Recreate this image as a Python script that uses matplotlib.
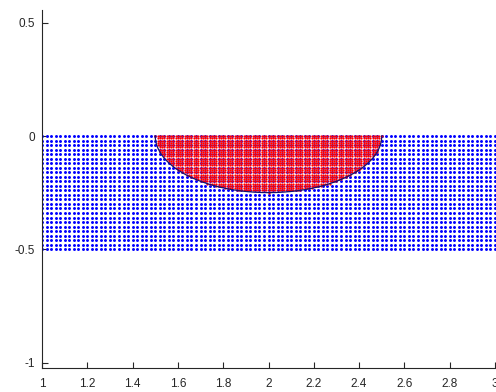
import numpy as np
import matplotlib
matplotlib.use("Agg")
import matplotlib.pyplot as plt

# Domain grid (blue points)
x_min, x_max, grid_step = 1.0, 3.0, 0.02
y_min, y_max = -0.5, 0.0
# Inclusion: lower half ellipse (red points)
ell_cx, ell_cy, ell_a, ell_b = 2.0, 0.0, 0.5, 0.25
fine_step = 0.01

xticks = [1, 1.2, 1.4, 1.6, 1.8, 2, 2.2, 2.4, 2.6, 2.8, 3]
xticklabels = ["1", "1.2", "1.4", "1.6", "1.8", "2", "2.2", "2.4", "2.6", "2.8", "3"]
yticks = [-1, -0.5, 0, 0.5]
yticklabels = ["-1", "-0.5", "0", "0.5"]

plt.rcParams['font.family'] = ['Liberation Sans', 'DejaVu Sans']

fig = plt.figure(figsize=(4.96, 3.92), dpi=100)
W, H = 496, 392
left, right, bottom, top = 42, 495, 368, 10
ax = fig.add_axes([left / W, (H - bottom) / H, (right - left) / W, (bottom - top) / H])

# blue grid
nx = int(round((x_max - x_min) / grid_step)) + 1
ny = int(round((y_max - y_min) / grid_step)) + 1
gx, gy = np.meshgrid(np.linspace(x_min, x_max, nx), np.linspace(y_min, y_max, ny))
ax.scatter(gx.ravel(), gy.ravel(), s=4.5, c='#0000ff', marker='o', linewidths=0, zorder=2)

# red fine points inside half ellipse
fx = np.linspace(ell_cx - ell_a, ell_cx + ell_a, int(round(2 * ell_a / fine_step)) + 1)
fy = np.linspace(ell_cy - ell_b, ell_cy, int(round(ell_b / fine_step)) + 1)
FX, FY = np.meshgrid(fx, fy)
inside = ((FX - ell_cx) / ell_a) ** 2 + ((FY - ell_cy) / ell_b) ** 2 <= 1.0 + 1e-9
ax.scatter(FX[inside], FY[inside], s=2.6, c='#ff0000', marker='o', linewidths=0, zorder=3)

# ellipse outline (lower arc)
t = np.linspace(np.pi, 2 * np.pi, 200)
ax.plot(ell_cx + ell_a * np.cos(t), ell_cy + ell_b * np.sin(t), color='#14146e', lw=0.9, zorder=4)

unit_px = (right - left) / (x_max - x_min)
ax.set_xlim(x_min, x_max)
y0_px = 136
ax.set_ylim(-(bottom - y0_px) / unit_px, (y0_px - top) / unit_px)

ax.set_xticks(xticks)
ax.set_xticklabels(xticklabels)
ax.set_yticks(yticks)
ax.set_yticklabels(yticklabels)
for s in ['top', 'right']:
    ax.spines[s].set_visible(False)
for s in ['left', 'bottom']:
    ax.spines[s].set_color('#262626')
    ax.spines[s].set_linewidth(0.8)
ax.tick_params(direction='in', length=4, width=0.8, color='#262626', labelcolor='#262626', labelsize=8.5)
ax.tick_params(axis='x', pad=7)
ax.tick_params(axis='y', pad=5)

fig.savefig("out.png", dpi=100)
